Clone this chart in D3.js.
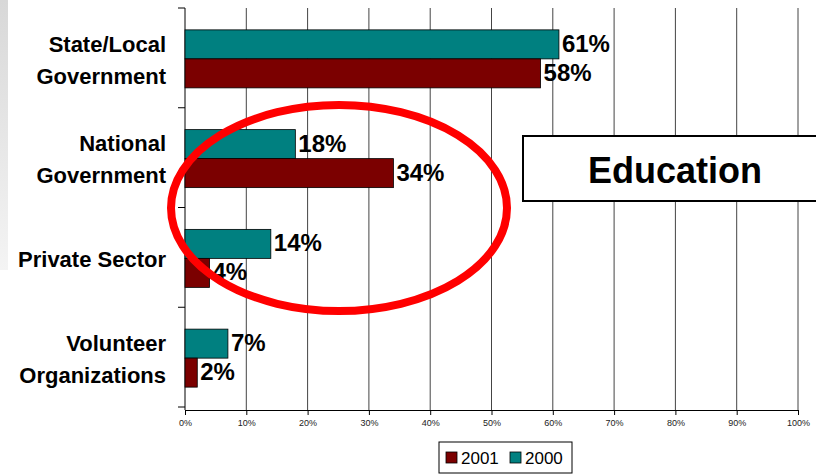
<!DOCTYPE html>
<html>
<head>
<meta charset="utf-8">
<script src="https://cdn.jsdelivr.net/npm/d3@7"></script>
<style>
  body { margin: 0; background: #fff; }
  svg { display: block; font-family: Arial, "Liberation Sans", sans-serif; }
</style>
</head>
<body>
<div id="chart"></div>
<script>
// data
var categories = ['State/Local Government', 'National Government', 'Private Sector', 'Volunteer Organizations'];
var labelLines = [['State/Local', 'Government'], ['National', 'Government'], ['Private Sector'], ['Volunteer', 'Organizations']];
var values2000 = [61, 18, 14, 7];
var values2001 = [58, 34, 4, 2];
var seriesNames = ['2001', '2000'];
var xTicks = [0, 10, 20, 30, 40, 50, 60, 70, 80, 90, 100];

var W = 816, H = 474;
var colors = { '2001': '#7b0000', '2000': '#008080' };

var svg = d3.select('#chart').append('svg')
	.attr('width', W)
	.attr('height', H);

// faint grey strip on the left edge
var grad = svg.append('defs').append('linearGradient')
	.attr('id', 'edge').attr('x1', 0).attr('x2', 0).attr('y1', 0).attr('y2', 1);
grad.append('stop').attr('offset', '0%').attr('stop-color', '#d8d8d8');
grad.append('stop').attr('offset', '100%').attr('stop-color', '#f4f4f4');
svg.append('rect').attr('x', 0).attr('y', 0).attr('width', 8).attr('height', 270).attr('fill', 'url(#edge)');

var x = d3.scaleLinear().domain([0, 100]).range([185, 798]);
var y = d3.scaleBand().domain(categories).range([8, 407]);

// gridlines
svg.append('g').selectAll('line')
	.data(xTicks.slice(1))
	.enter().append('line')
	.attr('x1', function(d) { return x(d); })
	.attr('x2', function(d) { return x(d); })
	.attr('y1', 8).attr('y2', 410)
	.attr('stroke', '#444').attr('stroke-width', 1);

// bottom axis
var xAxis = svg.append('g')
	.attr('transform', 'translate(0,410)')
	.call(d3.axisBottom(x).tickValues(xTicks).tickSize(5).tickSizeOuter(0)
		.tickFormat(function(d) { return d + '%'; }));
xAxis.select('.domain').attr('stroke', '#000');
xAxis.selectAll('.tick line').attr('stroke', '#000');
xAxis.selectAll('text').attr('font-size', 9).attr('fill', '#222').attr('dy', '0.9em')
	.attr('font-family', 'Arial, "Liberation Sans", sans-serif');

// left axis
var yAxis = svg.append('g')
	.attr('transform', 'translate(185,0)');
yAxis.append('line').attr('x1', 0).attr('x2', 0).attr('y1', 8).attr('y2', 410).attr('stroke', '#000');
var bandEdges = categories.map(function(c) { return y(c); }).concat([407]);
yAxis.selectAll('.ytick').data(bandEdges).enter().append('line')
	.attr('class', 'ytick')
	.attr('x1', -7).attr('x2', 0)
	.attr('y1', function(d) { return d; }).attr('y2', function(d) { return d; })
	.attr('stroke', '#000');

// category labels
var lab = svg.append('g');
categories.forEach(function(c, i) {
	var lines = labelLines[i];
	var cy = y(c) + y.bandwidth() / 2 + 2;
	var t = lab.append('text')
		.attr('x', 166)
		.attr('text-anchor', 'end')
		.attr('font-size', 22)
		.attr('font-weight', 'bold')
		.attr('fill', '#000');
	lines.forEach(function(l, j) {
		t.append('tspan')
			.attr('x', 166)
			.attr('y', cy + (j - (lines.length - 1) / 2) * 32)
			.attr('dy', '0.35em')
			.text(l);
	});
});

// bars
var barH = 29;
var rows = categories.map(function(c, i) {
	return { cat: c, v2000: values2000[i], v2001: values2001[i] };
});
var groups = svg.append('g').selectAll('.row')
	.data(rows)
	.enter().append('g')
	.attr('class', 'row')
	.attr('transform', function(d) { return 'translate(0,' + (y(d.cat) + y.bandwidth() / 2 - barH + 1) + ')'; });

groups.append('rect')
	.attr('x', x(0))
	.attr('y', 0)
	.attr('width', function(d) { return x(d.v2000) - x(0); })
	.attr('height', barH)
	.attr('fill', colors['2000'])
	.attr('stroke', '#000').attr('stroke-width', 0.8);
groups.append('rect')
	.attr('x', x(0))
	.attr('y', barH)
	.attr('width', function(d) { return x(d.v2001) - x(0); })
	.attr('height', barH)
	.attr('fill', colors['2001'])
	.attr('stroke', '#000').attr('stroke-width', 0.8);

groups.append('text')
	.attr('x', function(d) { return x(d.v2000) + 3; })
	.attr('y', barH / 2 - 1)
	.attr('dy', '0.35em')
	.attr('font-size', 24).attr('font-weight', 'bold')
	.text(function(d) { return d.v2000 + '%'; });
groups.append('text')
	.attr('x', function(d) { return x(d.v2001) + 3; })
	.attr('y', barH * 1.5 - 1)
	.attr('dy', '0.35em')
	.attr('font-size', 24).attr('font-weight', 'bold')
	.text(function(d) { return d.v2001 + '%'; });

// "Education" box
svg.append('rect')
	.attr('x', 523).attr('y', 136).attr('width', 300).attr('height', 65)
	.attr('fill', '#fff').attr('stroke', '#000').attr('stroke-width', 2);
svg.append('text')
	.attr('x', 675).attr('y', 170).attr('dy', '0.35em')
	.attr('text-anchor', 'middle')
	.attr('font-size', 36).attr('font-weight', 'bold')
	.text('Education');

// red ellipse annotation
svg.append('ellipse')
	.attr('cx', 339).attr('cy', 208).attr('rx', 168).attr('ry', 103)
	.attr('fill', 'none').attr('stroke', '#ff0000').attr('stroke-width', 8);

// legend
var legend = svg.append('g').attr('transform', 'translate(439,442)');
legend.append('rect').attr('width', 133).attr('height', 31)
	.attr('fill', '#fff').attr('stroke', '#000').attr('stroke-width', 1);
seriesNames.forEach(function(s, i) {
	var gx = 7 + i * 64;
	legend.append('rect').attr('x', gx).attr('y', 10).attr('width', 11).attr('height', 11)
		.attr('fill', colors[s]).attr('stroke', '#000').attr('stroke-width', 0.8);
	legend.append('text').attr('x', gx + 15).attr('y', 16).attr('dy', '0.35em')
		.attr('font-size', 17).text(s);
});
</script>
</body>
</html>
